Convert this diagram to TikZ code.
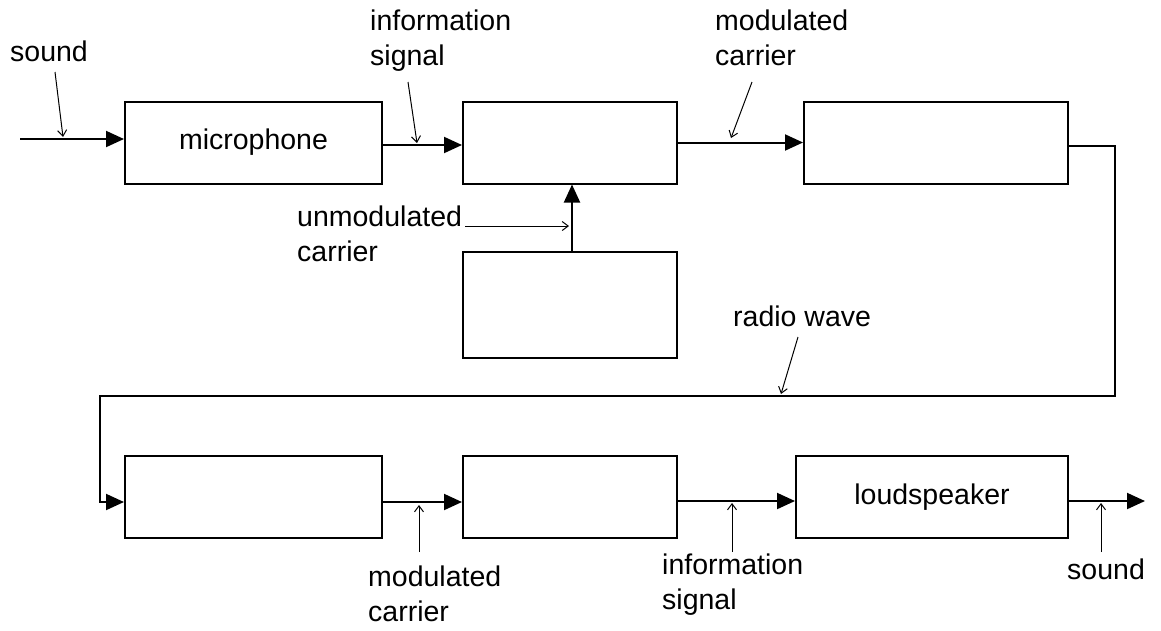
\documentclass[tikz,border=0pt]{standalone}
\usepackage{fontspec}
\setmainfont{Liberation Sans}
\usetikzlibrary{arrows.meta,calc}
\begin{document}
\begin{tikzpicture}[x=1pt,y=-1pt,
  blk/.style={draw,line width=2pt,inner sep=0pt,font=\fontsize{28.5}{34}\selectfont},
  conn/.style={line width=2pt,-{Triangle[length=18pt,width=16pt]}},
  ptr/.style={line width=1pt,-{Straight Barb[length=6pt,width=9pt]}},
  lbl/.style={anchor=north west,inner sep=0pt,align=left,font=\fontsize{28.5}{34.5}\selectfont}]
\useasboundingbox (0,0) rectangle (1161,630);
% blocks
\node[blk,minimum width=257pt,minimum height=82pt] (mic) at (253.5,142.5) {microphone};
\node[blk,minimum width=214pt,minimum height=82pt] (mod) at (570,142.5) {};
\node[blk,minimum width=264pt,minimum height=82pt] (tx) at (936,143) {};
\node[blk,minimum width=214pt,minimum height=106pt] (osc) at (570,305) {};
\node[blk,minimum width=257pt,minimum height=82pt] (rx) at (253.5,497) {};
\node[blk,minimum width=214pt,minimum height=82pt] (demod) at (570,497) {};
\node[blk,minimum width=272pt,minimum height=82pt] (ls) at (932,497) {loudspeaker};
% labels
\node[lbl] (lsound) at (10,41) {sound};
\node[lbl] (linfo) at (370,10) {information\\signal};
\node[lbl] (lmod) at (715,10) {modulated\\carrier};
\node[lbl] (lunmod) at (297,206) {unmodulated\\carrier};
\node[lbl] (lradio) at (733,306) {radio wave};
\node[lbl] (lmod2) at (368,566) {modulated\\carrier};
\node[lbl] (linfo2) at (662,554) {information\\signal};
\node[lbl] (lsound2) at (1067,559) {sound};
% coordinates
\coordinate (sin) at (20,139);
\coordinate (c1) at (1115,396);
\coordinate (c2) at (100,396);
\coordinate (sout) at (1145,501);
% main connectors
\draw[conn] (sin) -- (sin -| mic.west);
\draw[conn] ([yshift=-2.5pt]mic.east) -- ([yshift=-2.5pt]mod.west);
\draw[conn] (mod.east) -- (mod.east -| tx.west);
\draw[conn] ([xshift=2pt]osc.north) -- ([xshift=2pt]mod.south);
\draw[conn] ([yshift=-3pt]tx.east) -| (c1) -- (c2) |- ([yshift=-5pt]rx.west);
\draw[conn] ([yshift=-5pt]rx.east) -- ([yshift=-5pt]demod.west);
\draw[conn] ([yshift=-4pt]demod.east) -- ([yshift=-4pt]ls.west);
\draw[conn] ([yshift=-4pt]ls.east) -- (sout);
% pointers
\coordinate (p1a) at (55,72);   \coordinate (p1b) at (63,137);
\coordinate (p2a) at (408,82);  \coordinate (p2b) at (417,143);
\coordinate (p3a) at (752,82);  \coordinate (p3b) at (731,138);
\coordinate (p4a) at (465,226); \coordinate (p4b) at (569,226);
\coordinate (p5a) at (798,337); \coordinate (p5b) at (781,394);
\coordinate (p6a) at (419,552); \coordinate (p6b) at (419,505);
\coordinate (p7a) at (732,552); \coordinate (p7b) at (732,503);
\coordinate (p8a) at (1101,552); \coordinate (p8b) at (1101,503);
\draw[ptr] (p1a) -- (p1b);
\draw[ptr] (p2a) -- (p2b);
\draw[ptr] (p3a) -- (p3b);
\draw[ptr] (p4a) -- (p4b);
\draw[ptr] (p5a) -- (p5b);
\draw[ptr] (p6a) -- (p6b);
\draw[ptr] (p7a) -- (p7b);
\draw[ptr] (p8a) -- (p8b);
\end{tikzpicture}
\end{document}
